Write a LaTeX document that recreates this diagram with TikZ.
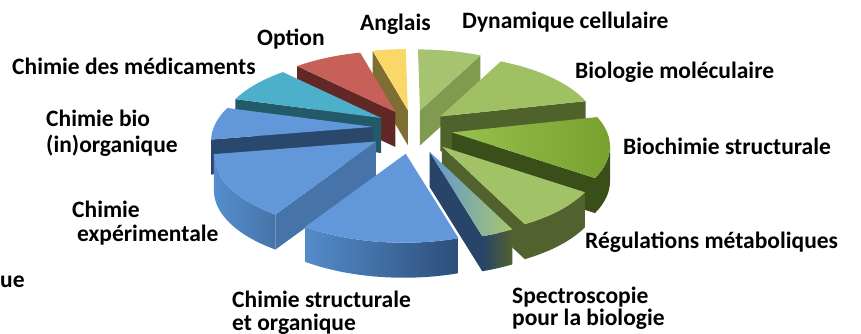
\documentclass[tikz,border=0pt]{standalone}
\usepackage{fontspec}
\setmainfont{Carlito}[BoldFont={Carlito Bold}]
\usetikzlibrary{positioning}

\definecolor{angT}{RGB}{250,216,104}
\definecolor{angD}{RGB}{126,110,52}
\definecolor{dynT}{RGB}{166,196,112}
\definecolor{dynD}{RGB}{128,154,80}
\definecolor{molT}{RGB}{160,192,100}
\definecolor{molD}{RGB}{80,98,44}
\definecolor{bsL}{RGB}{152,192,78}
\definecolor{bsR}{RGB}{120,160,46}
\definecolor{bsD}{RGB}{58,78,26}
\definecolor{regT}{RGB}{162,194,104}
\definecolor{regD}{RGB}{82,98,46}
\definecolor{speB}{RGB}{96,150,214}
\definecolor{speG}{RGB}{168,198,108}
\definecolor{speN}{RGB}{40,68,104}
\definecolor{speO}{RGB}{82,96,44}
\definecolor{bluT}{RGB}{98,152,218}
\definecolor{strL}{RGB}{84,140,202}
\definecolor{strR}{RGB}{44,78,122}
\definecolor{expD}{RGB}{70,116,168}
\definecolor{expL}{RGB}{84,142,205}
\definecolor{inoD}{RGB}{42,72,108}
\definecolor{medT}{RGB}{76,176,202}
\definecolor{medD}{RGB}{34,90,106}
\definecolor{optT}{RGB}{200,96,90}
\definecolor{optD}{RGB}{98,40,38}

\tikzset{
  lbl/.style={font=\bfseries\fontsize{23.5}{26}\selectfont, inner sep=0pt, anchor=base west},
  % slice faces: top, radial cut, outer rim
  angtop/.style={fill=angT}, angcut/.style={fill=angD}, angrim/.style={fill=angD},
  dyntop/.style={fill=dynT}, dyncut/.style={fill=dynD}, dynrim/.style={fill=dynD},
  opttop/.style={fill=optT}, optcut/.style={fill=optD}, optrim/.style={fill=optD},
  moltop/.style={fill=molT}, molcut/.style={fill=molD}, molrim/.style={fill=molD},
  medtop/.style={fill=medT}, medcut/.style={fill=medD}, medrim/.style={fill=medD},
  inotop/.style={fill=bluT}, inocut/.style={fill=inoD}, inorim/.style={fill=expD},
  bstop/.style={left color=bsL, right color=bsR}, bscut/.style={fill=bsD}, bsrim/.style={fill=bsD},
  exptop/.style={fill=bluT}, expcut/.style={fill=expD}, exprim/.style={left color=expL, right color=expD},
  regtop/.style={fill=regT}, regcut/.style={fill=regD}, regrim/.style={fill=regD},
  spetop/.style={left color=speB, right color=speG}, specut/.style={fill=speN}, sperim/.style={left color=speN, right color=speO},
  strtop/.style={fill=bluT}, strcut/.style={fill=expD}, strrim/.style={left color=strL, right color=strR},
}

\begin{document}
\begin{tikzpicture}[x=1pt,y=1pt]
\useasboundingbox (0,0) rectangle (861,333);

% slices, back to front (angles clockwise from top)
\foreach \a/\b/\tp/\ct/\rm in {348/360/angtop/angcut/angrim, 0/23/dyntop/dyncut/dynrim,
    323/348/opttop/optcut/optrim, 23/67/moltop/molcut/molrim, 296/323/medtop/medcut/medrim,
    271/296/inotop/inocut/inorim, 67/115/bstop/bscut/bsrim, 218/271/exptop/expcut/exprim,
    115/148/regtop/regcut/regrim, 148/160/spetop/specut/sperim, 160/218/strtop/strcut/strrim}{
  \pgfmathsetmacro\m{(\a+\b)/2}
  \pgfmathsetmacro\dx{40*sin(\m)}
  \pgfmathsetmacro\dy{22*cos(\m)}
  \coordinate (t) at ({412+\dx},{201+\dy});
  \coordinate (p) at ({410+\dx+160*sin(\a)},{187+\dy+75*cos(\a)});
  \coordinate (q) at ({410+\dx+160*sin(\b)},{187+\dy+75*cos(\b)});
  % cut faces
  \pgfmathtruncatemacro\va{sin(\a)<-0.001}
  \ifnum\va=1
    \path[\ct] (t) -- (p) -- ([yshift=-35pt]p) -- ([yshift=-35pt]t) -- cycle;
  \fi
  \pgfmathtruncatemacro\vb{sin(\b)>0.001}
  \ifnum\vb=1
    \path[\ct] (t) -- (q) -- ([yshift=-35pt]q) -- ([yshift=-35pt]t) -- cycle;
  \fi
  % rim
  \pgfmathsetmacro\lo{max(\a,90)}
  \pgfmathsetmacro\hi{min(\b,270)}
  \pgfmathtruncatemacro\vs{\hi>\lo}
  \ifnum\vs=1
    \path[\rm] ({410+\dx+160*sin(\lo)},{187+\dy+75*cos(\lo)})
      arc[start angle={90-\lo}, end angle={90-\hi}, x radius=160, y radius=75]
      -- ++(0,-35)
      arc[start angle={90-\hi}, end angle={90-\lo}, x radius=160, y radius=75] -- cycle;
  \fi
  % top
  \path[\tp] (t) -- (p) arc[start angle={90-\a}, end angle={90-\b}, x radius=160, y radius=75] -- cycle;
}

% labels
\node[lbl] (dyn) at (462,305) {Dynamique cellulaire};
\node[lbl] (ang) at (360,303) {Anglais};
\node[lbl] (opt) at (257,288) {Option};
\node[lbl] (med) at (12,259) {Chimie des médicaments};
\node[lbl] (inoA) at (46,207) {Chimie bio};
\node[lbl] (inoB) at (46,181) {(in)organique};
\node[lbl] (expA) at (72,116) {Chimie};
\node[lbl] (expB) at (77,92) {expérimentale};
\node[lbl] (strA) at (232,26) {Chimie structurale};
\node[lbl] (strB) at (232,3) {et organique};
\node[lbl] (speA) at (512,30) {Spectroscopie};
\node[lbl] (speB) at (512,8) {pour la biologie};
\node[lbl] (mol) at (575,255) {Biologie moléculaire};
\node[lbl] (bs) at (623,179) {Biochimie structurale};
\node[lbl] (reg) at (585,85) {Régulations métaboliques};
\node[lbl] (cut) at (0,46) {ue};
\end{tikzpicture}
\end{document}
